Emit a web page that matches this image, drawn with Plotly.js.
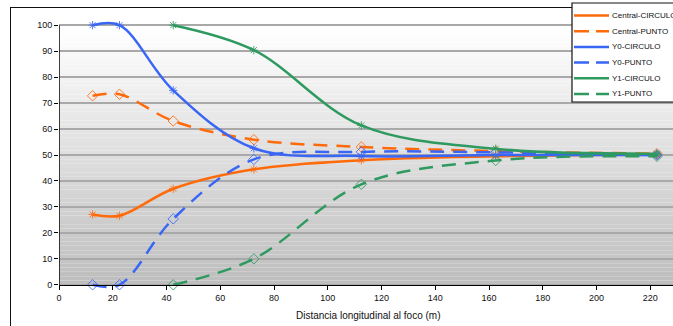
<!DOCTYPE html>
<html>
<head>
<meta charset="utf-8">
<script src="https://cdn.plot.ly/plotly-3.0.1.min.js"></script>
<style>
  html, body { margin: 0; padding: 0; background: #ffffff; overflow: hidden; }
  #wrap { position: relative; width: 673px; height: 326px; overflow: hidden; background: #fff; }
  #frame { position: absolute; left: 10px; top: 7px; width: 800px; height: 500px; border: 1.5px solid #111; box-sizing: border-box; }
  #chart { position: absolute; left: 0; top: 0; width: 673px; height: 326px; }
</style>
</head>
<body>
<div id="wrap">
  <div id="frame"></div>
  <div id="chart"></div>
</div>
<script>
// ---- data ----
const xCentralY0 = [12.5, 22.5, 42.5, 72.5, 112.5, 162.5, 222.5];
const xY1 = [42.5, 72.5, 112.5, 162.5, 222.5];

const centralCirculo = [27.1, 26.6, 37.0, 44.5, 48.0, 49.5, 50.2];
const centralPunto   = [72.8, 73.4, 63.1, 55.9, 53.1, 51.5, 50.5];
const y0Circulo      = [100, 100, 74.9, 52.6, 49.6, 50.0, 50.0];
const y0Punto        = [0, 0, 25.4, 48.3, 51.2, 51.0, 50.0];
const y1Circulo      = [100, 90.4, 61.4, 52.4, 50.5];
const y1Punto        = [0, 10.0, 38.7, 47.9, 49.5];

const seriesNames = ['Central-CIRCULO', 'Central-PUNTO', 'Y0-CIRCULO', 'Y0-PUNTO', 'Y1-CIRCULO', 'Y1-PUNTO'];
const xTickVals = [0, 20, 40, 60, 80, 100, 120, 140, 160, 180, 200, 220];
const yTickVals = [0, 10, 20, 30, 40, 50, 60, 70, 80, 90, 100];
const xTitle = 'Distancia longitudinal al foco (m)';

// ---- styles ----
const ORANGE = '#FF6A0A', BLUE = '#3A66F5', GREEN = '#2F9A60';
const DASH = '14px,9px';
const FONT = 'Liberation Sans, Arial, sans-serif';

const seriesX = [xCentralY0, xCentralY0, xCentralY0, xCentralY0, xY1, xY1];
const seriesY = [centralCirculo, centralPunto, y0Circulo, y0Punto, y1Circulo, y1Punto];
const seriesColor = [ORANGE, ORANGE, BLUE, BLUE, GREEN, GREEN];
const seriesDashed = [false, true, false, true, false, true];

const traces = seriesNames.map((name, i) => ({
  type: 'scatter', mode: 'lines+markers', name: name,
  x: seriesX[i], y: seriesY[i],
  line: { color: seriesColor[i], width: 2.5, shape: 'spline', smoothing: 1, dash: seriesDashed[i] ? DASH : 'solid' },
  marker: seriesDashed[i]
    ? { symbol: 'diamond-open', size: 8, color: seriesColor[i], opacity: 0.85, line: { width: 1, color: seriesColor[i] } }
    : { symbol: 'asterisk-open', size: 7, color: seriesColor[i], opacity: 0.85, line: { width: 1, color: seriesColor[i] } },
  showlegend: false, cliponaxis: false
}));

// ---- layout geometry ----
const W = 673, H = 326, ML = 59, MT = 20, MB = 36;
const PW = W - ML, PH = H - MT - MB;
const px2x = p => (p - ML) / PW;
const px2y = p => (MT + PH - p) / PH;

const shapes = [];
// gradient background in plot area (y 0..100)
const N = 60;
function lerp(a, b, t) { return Math.round(a + (b - a) * t); }
for (let k = 0; k < N; k++) {
  const t = k / (N - 1);
  const g = lerp(190, 255, t);
  shapes.push({
    type: 'rect', layer: 'below', xref: 'x domain', yref: 'y',
    x0: 0, x1: 1, y0: 100 * k / N, y1: 100 * (k + 1) / N,
    fillcolor: `rgb(${g},${g},${g})`, line: { width: 0 }
  });
}
// y axis line
shapes.push({ type: 'line', xref: 'x', yref: 'y', x0: 0, x1: 0, y0: 0, y1: 100, line: { color: '#000', width: 1.5 }, layer: 'above' });

// manual legend (Excel-like compact spacing)
const annotations = [];
const LGX0 = 572, LGTOP = 3, LGBOT = 102;
shapes.push({ type: 'rect', xref: 'paper', yref: 'paper', x0: px2x(LGX0), x1: px2x(690), y0: px2y(LGBOT), y1: px2y(LGTOP),
  fillcolor: '#ffffff', line: { color: '#111', width: 1.2 }, layer: 'above' });
seriesNames.forEach((name, i) => {
  const yy = 15.5 + i * 15.7;
  shapes.push({ type: 'line', xref: 'paper', yref: 'paper', x0: px2x(574), x1: px2x(609), y0: px2y(yy), y1: px2y(yy),
    line: { color: seriesColor[i], width: 2.5, dash: seriesDashed[i] ? '15px,7px' : 'solid' }, layer: 'above' });
  annotations.push({ xref: 'paper', yref: 'paper', x: px2x(610), y: px2y(yy), xanchor: 'left', yanchor: 'middle',
    text: name, showarrow: false, font: { family: FONT, size: 8, color: '#111' } });
});
annotations.push({ xref: 'paper', yref: 'paper', x: px2x(368), y: px2y(315), xanchor: 'center', yanchor: 'middle',
  text: xTitle, showarrow: false, font: { family: FONT, size: 10, color: '#111' } });

const layout = {
  width: W, height: H,
  margin: { l: ML, r: 0, t: MT, b: MB, pad: 0 },
  paper_bgcolor: 'rgba(0,0,0,0)', plot_bgcolor: 'rgba(0,0,0,0)',
  showlegend: false,
  font: { family: FONT, size: 9, color: '#111' },
  xaxis: {
    range: [0, PW / 2.6875], tickvals: xTickVals, ticktext: xTickVals.map(String),
    anchor: 'free', position: 2 / 104,
    showline: true, linecolor: '#000', linewidth: 1.5,
    ticks: 'outside', ticklen: 4, tickcolor: '#000', tickwidth: 1,
    showgrid: false, zeroline: false, tickfont: { family: FONT, size: 9, color: '#111' }
  },
  yaxis: {
    range: [-2, 102], tickvals: yTickVals, ticktext: yTickVals.map(String),
    showline: false, ticks: 'outside', ticklen: 4, tickcolor: '#000', tickwidth: 1,
    showgrid: true, gridcolor: '#a9a9a9', gridwidth: 1.5, zeroline: false,
    tickfont: { family: FONT, size: 9, color: '#111' }
  },
  shapes: shapes,
  annotations: annotations
};

Plotly.newPlot('chart', traces, layout, { displayModeBar: false, staticPlot: true });
</script>
</body>
</html>
